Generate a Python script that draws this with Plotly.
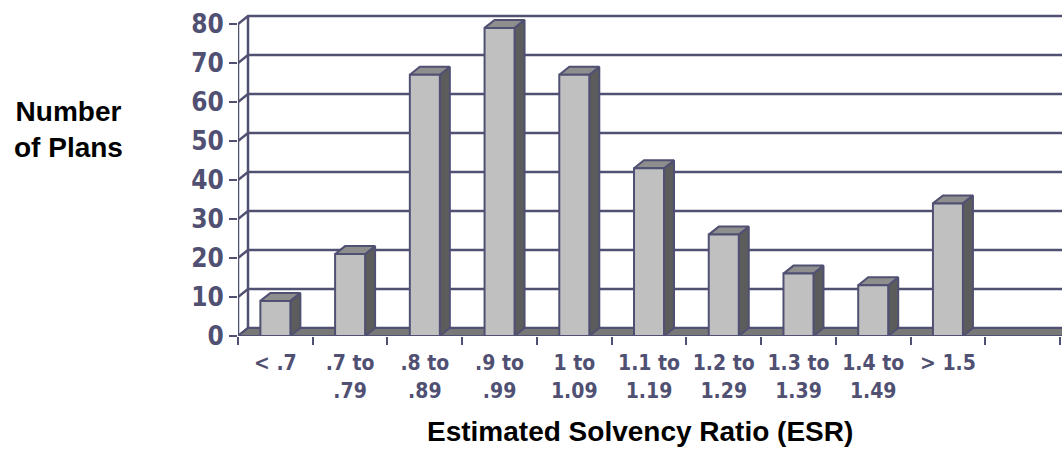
import plotly.graph_objects as go

# Distribution of plans by estimated solvency ratio band
categories = ["< .7", ".7 to<br>.79", ".8 to<br>.89", ".9 to<br>.99", "1 to<br>1.09",
              "1.1 to<br>1.19", "1.2 to<br>1.29", "1.3 to<br>1.39", "1.4 to<br>1.49", "> 1.5"]
plan_counts = [9, 21, 67, 79, 67, 43, 26, 16, 13, 34]
y_ticks = [0, 10, 20, 30, 40, 50, 60, 70, 80]

# ---- geometry of the pseudo-3D frame (pixels -> data units) ----
W, H = 1062, 449
LEFT, BOTTOM_PX, TOP = 238, 336, 8
SLOT_PX = 74.73                      # width of one category slot
Y_PX = 3.9                           # pixels per plan on the front plane
X_MIN = -0.5
X_MAX = X_MIN + (W - LEFT) / SLOT_PX
Y_MAX = (BOTTOM_PX - TOP) / Y_PX
DXU = 10 / SLOT_PX                   # depth offset, x
DYU = 8 / Y_PX                       # depth offset, y
BAR_W = 30 / SLOT_PX
N_SLOTS = 11
PLOT_W = W - LEFT
PLOT_H = BOTTOM_PX - TOP

NAVY = "#505073"
FRONT, SIDE, TOPC, FLOOR = "#c0c0c0", "#5c5c5c", "#8e8e8e", "#787878"

fig = go.Figure()


def seg_trace(xs, ys, width, color=NAVY, fill=None, fillcolor=None):
    fig.add_trace(go.Scatter(x=xs, y=ys, mode="lines", fill=fill, fillcolor=fillcolor,
                             line=dict(color=color, width=width),
                             hoverinfo="skip", showlegend=False, connectgaps=False))


# back wall gridlines and the diagonal links to the front axis
gx, gy = [], []
for v in y_ticks:
    gx += [X_MIN, X_MIN + DXU, X_MAX + 1, None]
    gy += [v, v + DYU, v + DYU, None]
gx += [X_MIN + DXU, X_MIN + DXU, None, X_MIN, X_MIN]
gy += [DYU, y_ticks[-1] + DYU, None, 0, y_ticks[-1]]
seg_trace(gx, gy, 2.5)

# floor
seg_trace([X_MIN, X_MAX + 1, X_MAX + 1 + DXU, X_MIN + DXU, X_MIN],
          [0, 0, DYU, DYU, 0], 2, fill="toself", fillcolor=FLOOR)

# columns: side faces, top faces, front faces
sx, sy, tx, ty, fx, fy = [], [], [], [], [], []
for i, v in enumerate(plan_counts):
    l, r = i - BAR_W / 2, i + BAR_W / 2
    sx += [r, r + DXU, r + DXU, r, r, None]
    sy += [0, DYU, v + DYU, v, 0, None]
    tx += [l, r, r + DXU, l + DXU, l, None]
    ty += [v, v, v + DYU, v + DYU, v, None]
    fx += [l, r, r, l, l, None]
    fy += [0, 0, v, v, 0, None]
seg_trace(sx, sy, 2, fill="toself", fillcolor=SIDE)
seg_trace(tx, ty, 2, fill="toself", fillcolor=TOPC)
seg_trace(fx, fy, 2, fill="toself", fillcolor=FRONT)

# carrier for the category labels axis
fig.add_trace(go.Scatter(x=list(range(len(categories))), y=[None] * len(categories),
                         xaxis="x2", mode="markers", hoverinfo="skip", showlegend=False))

tick_font = dict(family="DejaVu Sans Condensed, DejaVu Sans", size=26, color=NAVY, weight="bold")
lab_font = dict(family="DejaVu Sans Condensed, DejaVu Sans", size=21, color=NAVY, weight="bold")

fig.update_layout(
    width=W, height=H,
    margin=dict(l=LEFT, r=0, t=TOP, b=H - BOTTOM_PX),
    paper_bgcolor="white", plot_bgcolor="white",
    xaxis=dict(range=[X_MIN, X_MAX], tickvals=[X_MIN + k for k in range(N_SLOTS + 1)],
               ticktext=[""] * (N_SLOTS + 1), ticks="outside", ticklen=8, tickwidth=2,
               tickcolor=NAVY, showgrid=False, zeroline=False, showline=False, fixedrange=True),
    xaxis2=dict(range=[X_MIN, X_MAX], overlaying="x", anchor="y", side="bottom",
                tickvals=list(range(len(categories))), ticktext=categories,
                ticks="outside", ticklen=8, tickcolor="rgba(0,0,0,0)",
                tickfont=lab_font, showgrid=False, zeroline=False, showline=False),
    yaxis=dict(range=[0, Y_MAX], tickvals=y_ticks, ticks="outside", ticklen=8, tickwidth=2,
               tickcolor=NAVY, tickfont=tick_font, showgrid=False, zeroline=False,
               showline=False),
    annotations=[
        dict(text="<b>Number<br>of Plans</b>", xref="paper", yref="paper",
             x=(68 - LEFT) / PLOT_W, y=1 - (94 - TOP) / PLOT_H,
             showarrow=False, xanchor="center", yanchor="top", align="center",
             font=dict(family="Liberation Sans, Arial", size=28, color="black")),
        dict(text="<b>Estimated Solvency Ratio (ESR)</b>", xref="paper", yref="paper",
             x=(640 - LEFT) / PLOT_W, y=-(414 - BOTTOM_PX) / PLOT_H,
             showarrow=False, xanchor="center", yanchor="top",
             font=dict(family="Liberation Sans, Arial", size=28, color="black")),
    ],
)

fig.write_html("out.html")
